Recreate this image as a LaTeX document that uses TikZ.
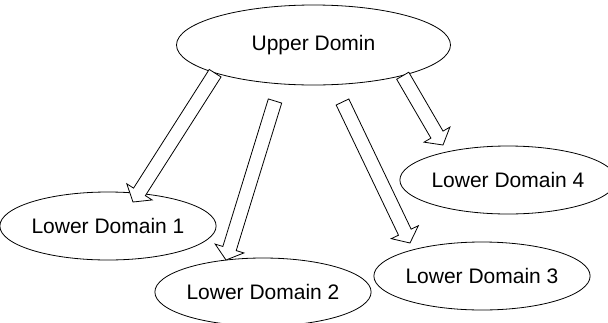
\documentclass[tikz,border=0pt]{standalone}
\usepackage{fontspec}
\setmainfont{Liberation Sans}
\usetikzlibrary{shapes.geometric,calc}

\newcommand{\blockarrow}[2]{%
  \coordinate (h) at ($(#2)!12pt!(#1)$);
  \filldraw [fill=white,line join=miter] ($(#1)!7pt!90:(#2)$) -- ($(h)!7pt!90:(#2)$)
    -- ($(h)!15pt!90:(#2)$) -- (#2) -- ($(h)!15pt!-90:(#2)$)
    -- ($(h)!7pt!-90:(#2)$) -- ($(#1)!7pt!-90:(#2)$) -- cycle;}

\begin{document}
\begin{tikzpicture}[x=1pt,y=-1pt,line width=0.8pt,
    dombox/.style={ellipse,draw,inner sep=0pt,minimum width=202pt,minimum height=68pt,
      font=\fontsize{21}{25}\selectfont}]
        \useasboundingbox (0,0) rectangle (608,322);
        \node [dombox,minimum width=274pt,minimum height=80pt] (up) at (313.5,45) {Upper Domin};
        \node [dombox] (ld1) at (108,226) {Lower Domain 1};
        \node [dombox] (ld2) at (263,292) {Lower Domain 2};
        \node [dombox] (ld3) at (482,276) {Lower Domain 3};
        \node [dombox,minimum width=199pt] (ld4) at (508,180) {Lower Domain 4};
        \coordinate (s2) at (275,101);
        \coordinate (s3) at (342.5,102);
        \coordinate (t1) at ($(ld1.center)+(25,-24)$);
        \coordinate (t2) at ($(ld2.center)+(-37,-32)$);
        \coordinate (t3) at ($(ld3.center)+(-72,-33)$);
        \coordinate (t4) at ($(ld4.center)+(-65,-35)$);
        \blockarrow{up.196}{t1}
        \blockarrow{s2}{t2}
        \blockarrow{s3}{t3}
        \blockarrow{up.341}{t4}
    \end{tikzpicture}
\end{document}
